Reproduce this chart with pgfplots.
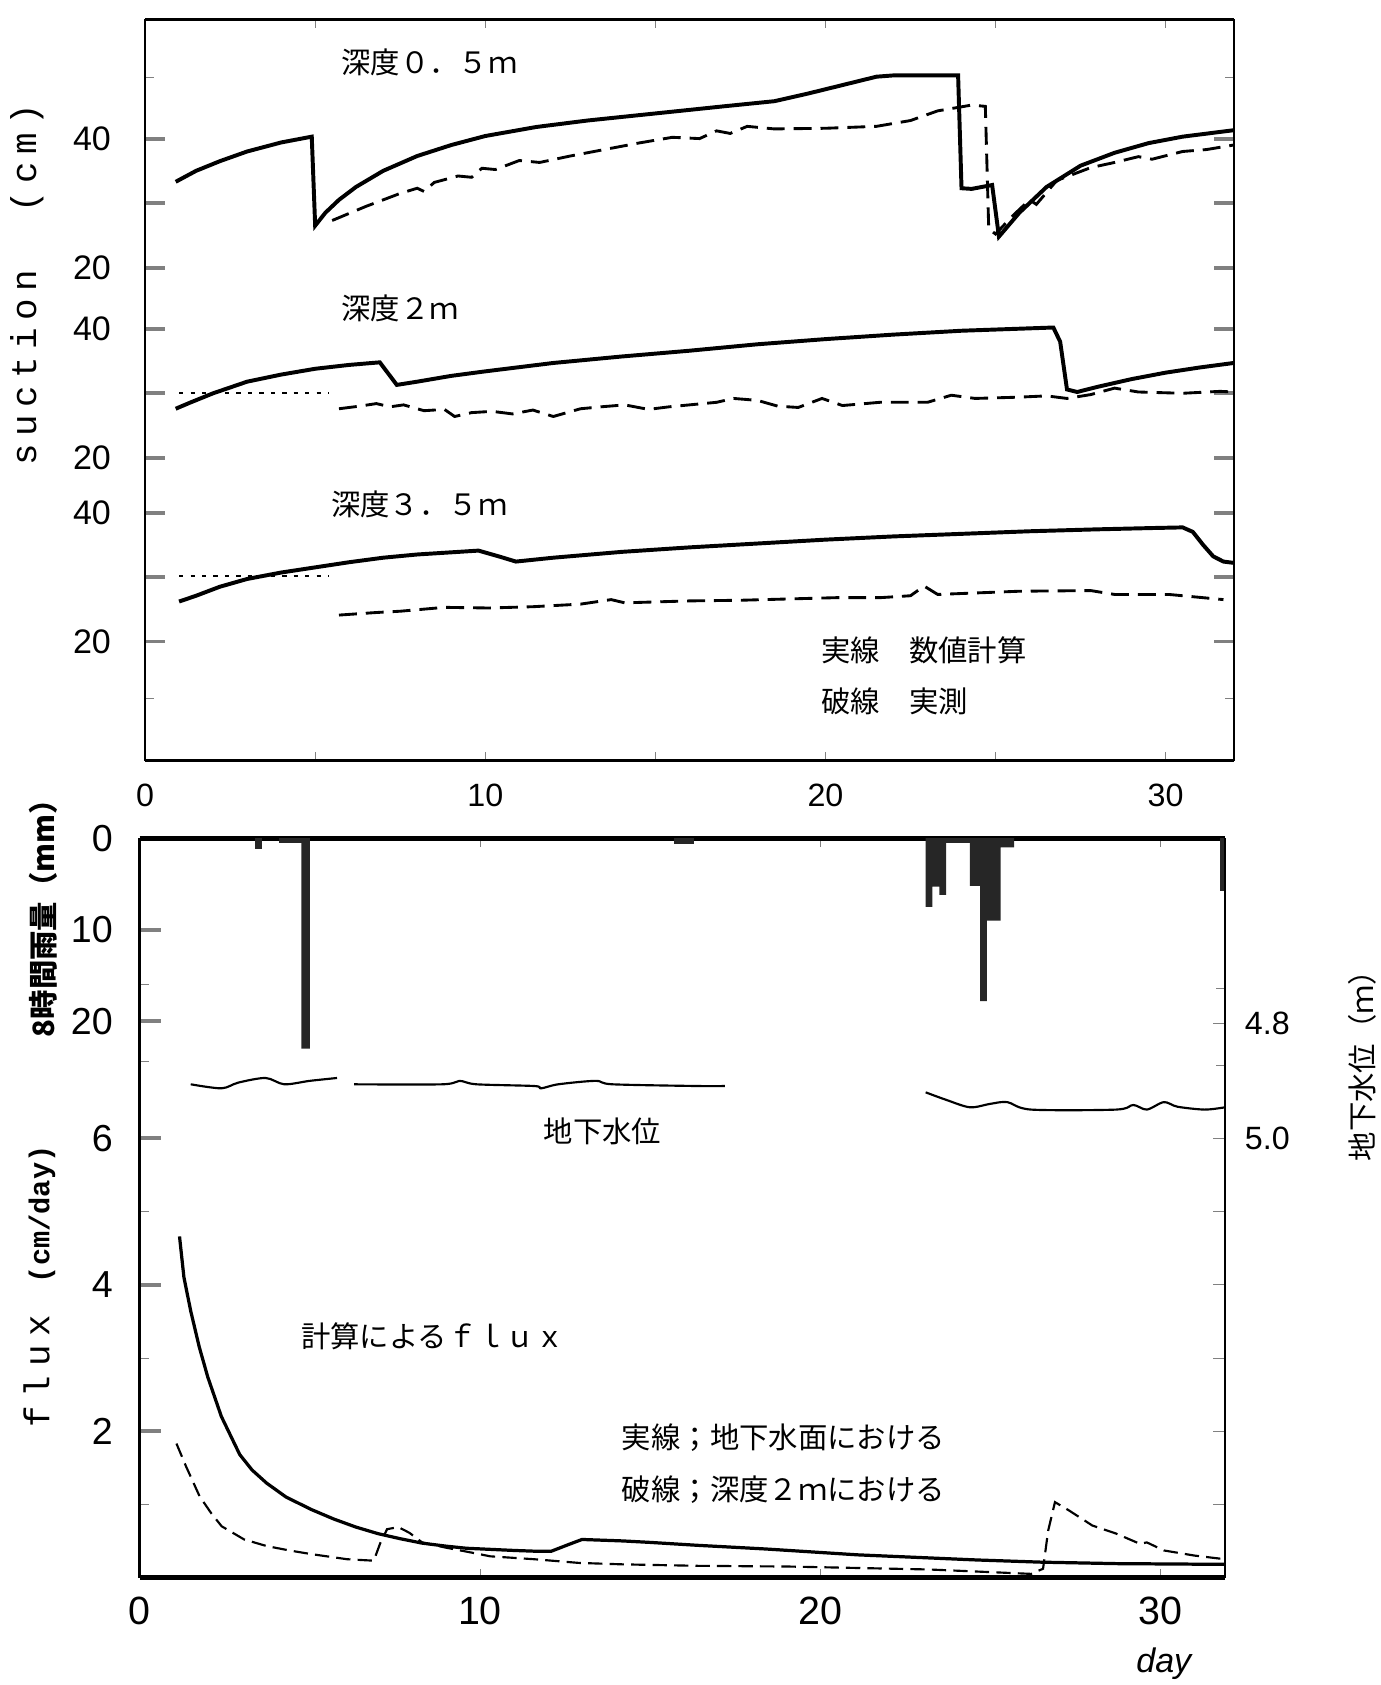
\documentclass[border=0pt]{standalone}
\usepackage{pgfplots}
\pgfplotsset{compat=1.18}
\usepackage{fontspec}
\setmainfont{Noto Sans CJK JP}
\newfontfamily\monofont{Liberation Mono}
\newfontfamily\numfont{Liberation Sans}
\newcommand\cj{\fontsize{8.2}{9.5}\selectfont}
\begin{document}
\begin{tikzpicture}
\useasboundingbox (0pt,0pt) rectangle (385.5pt,470.4pt);
% ================= TOP: suction =================
\begin{axis}[
  at={(40.5pt,258pt)}, anchor=south west, scale only axis,
  width=303.9pt, height=207pt,
  xmin=0, xmax=32, ymin=0, ymax=115,
  separate axis lines,
  every outer x axis line/.append style={line width=0.9pt},
  every outer y axis line/.append style={line width=0.5pt},
  tick align=inside,
  major tick length=5.5pt, minor tick length=2.5pt,
  every major y tick/.append style={line width=1.1pt},
  xtick={0,10,20,30},
  every major x tick/.append style={draw=none},
  minor xtick={0,5,...,30},
  ytick={18.5,28.5,38.5,47,57,67,76.5,86.5,96.5},
  yticklabels={20,,40,20,,40,20,,40},
  minor ytick={9.7,106},
  /pgf/number format/assume math mode=true,
  xticklabel style={font=\numfont\fontsize{9}{10}\selectfont, yshift=-3pt},
  yticklabel style={font=\numfont\fontsize{9.5}{10}\selectfont, xshift=-6pt},
]
% ---- depth 0.5 m (offset +56.5)
\addplot[black, line width=1.1pt, y filter/.expression={y+56.5}] coordinates {
(0.9,33.3) (1.5,35) (2.2,36.5) (3,38) (4,39.4) (4.9,40.3) (5.0,26.5) (5.3,28.5) (5.7,30.5) (6.2,32.5) (7,35) (8,37.3) (9,39) (10,40.4) (11.5,41.8) (13,42.8) (15,43.9) (17,45) (18.5,45.8) (19.5,47) (20.5,48.3) (21.5,49.6) (22,49.8) (23.9,49.8) (24.0,32.3) (24.3,32.2) (24.9,32.8) (25.1,24.8) (25.7,28.5) (26.5,32.5) (27.5,35.8) (28.5,37.8) (29.5,39.3) (30.5,40.3) (32,41.3)
};
\addplot[black, line width=0.8pt, dash pattern=on 5pt off 2.5pt, y filter/.expression={y+56.5}] coordinates {
(5.5,27.3) (6.5,29.5) (7.5,31.5) (8.0,32.3) (8.2,31.8) (8.5,33.2) (9.2,34.2) (9.6,34.0) (9.9,35.4) (10.3,35.2) (11,36.6) (11.6,36.3) (12.5,37.3) (13.5,38.3) (14.5,39.3) (15.5,40.2) (16.3,40.0) (16.8,41.2) (17.2,40.8) (17.7,41.9) (18.5,41.5) (20,41.6) (21.5,41.9) (22.5,42.8) (23.3,44.3) (24.3,45.2) (24.7,45.0) (24.8,26) (25.0,25.2) (25.5,28) (26.0,30.5) (26.2,29.8) (26.8,33.5) (27.8,35.5) (28.5,36.3) (29.2,37.2) (29.6,36.8) (30.5,38) (31.2,38.3) (32,39)
};
% ---- depth 2 m (offset +27)
\addplot[black, line width=1.1pt, y filter/.expression={y+27}] coordinates {
(0.9,27.6) (1.3,28.5) (2,30) (3,31.8) (4,32.9) (5,33.8) (6,34.4) (6.9,34.8) (7.4,31.3) (8,31.8) (9,32.7) (10,33.4) (12,34.7) (14,35.7) (16,36.6) (18,37.6) (20,38.4) (22,39.1) (24,39.7) (26.7,40.2) (26.9,38) (27.1,30.6) (27.4,30.2) (28,31) (29,32.2) (30,33.2) (31,34) (32,34.7)
};
\addplot[black, line width=0.8pt, dash pattern=on 5pt off 2.5pt, y filter/.expression={y+27}] coordinates {
(5.7,27.6) (6.3,28.0) (6.8,28.4) (7.2,27.9) (7.6,28.2) (8.2,27.3) (8.8,27.5) (9.1,26.4) (9.6,27.0) (10.2,27.2) (10.8,26.8) (11.4,27.4) (12.0,26.4) (12.8,27.6) (13.4,27.9) (14.1,28.2) (14.8,27.5) (15.4,27.9) (16.2,28.3) (16.8,28.6) (17.3,29.2) (18.0,28.9) (18.6,28.0) (19.2,27.8) (19.9,29.2) (20.5,28.1) (21.6,28.6) (23.0,28.6) (23.7,29.7) (24.4,29.2) (25.7,29.4) (26.5,29.6) (27.1,29.2) (27.8,29.8) (28.5,30.8) (29.2,30.2) (30.5,30.0) (31.6,30.3) (32,30.2)
};
\addplot[black, line width=0.5pt, dash pattern=on 1.2pt off 2pt, y filter/.expression={y+27}] coordinates {(1.0,30) (5.4,30)};
% ---- depth 3.5 m (offset -1.5)
\addplot[black, line width=1.1pt, y filter/.expression={y-1.5}] coordinates {
(1.0,26.2) (1.5,27.1) (2.2,28.5) (3,29.7) (4,30.7) (5,31.5) (6,32.3) (7,33) (8,33.5) (9.8,34.1) (10.4,33.2) (10.9,32.4) (12,33) (14,33.9) (16,34.6) (18,35.2) (20,35.8) (22,36.3) (24,36.7) (26,37.1) (28,37.4) (29.6,37.6) (30.5,37.7) (30.8,37.0) (31.1,35) (31.4,33.2) (31.7,32.4) (32,32.2)
};
\addplot[black, line width=0.8pt, dash pattern=on 5pt off 2.5pt, y filter/.expression={y-1.5}] coordinates {
(5.7,24.1) (6.8,24.5) (7.5,24.7) (8.8,25.3) (10.1,25.2) (11.4,25.4) (12.8,25.8) (13.7,26.5) (14.1,26.0) (16,26.3) (17.5,26.4) (20.3,26.8) (21.6,26.8) (22.5,27.1) (22.9,28.6) (23.3,27.3) (25.7,27.8) (27.8,27.9) (28.5,27.3) (30.1,27.3) (31.7,26.5)
};
\addplot[black, line width=0.5pt, dash pattern=on 1.2pt off 2pt, y filter/.expression={y-1.5}] coordinates {(1.0,30.2) (5.4,30.2)};
% ---- texts
\node[anchor=west, font=\cj] at (axis cs:5.4,108.3) {深度０．５ｍ};
\node[anchor=west, font=\cj] at (axis cs:5.4,70.2) {深度２ｍ};
\node[anchor=west, font=\cj] at (axis cs:5.1,39.7) {深度３．５ｍ};
\node[anchor=west, font=\cj] at (axis cs:19.5,17.2) {実線　数値計算};
\node[anchor=west, font=\cj] at (axis cs:19.5,9.2) {破線　実測};
\end{axis}
% ================= BOTTOM: rain / groundwater / flux =================
\begin{axis}[
  at={(39pt,30pt)}, anchor=south west, scale only axis,
  width=303pt, height=206.4pt,
  xmin=0, xmax=31.9, ymin=0, ymax=10.1,
  separate axis lines,
  every outer x axis line/.append style={line width=1.3pt},
  every outer y axis line/.append style={line width=0.7pt},
  tick align=inside, ytick pos=left,
  major tick length=6pt, minor tick length=2.5pt,
  every major y tick/.append style={line width=1.1pt},
  xtick={0,10,20,30},
  every major x tick/.append style={draw=none},
  minor xtick={10,20,30},
  ytick={2,4,6,7.6,8.85,10.1},
  yticklabels={2,4,6,20,10,0},
  minor ytick={1,3,5,7.05,8.1},
  /pgf/number format/assume math mode=true,
  xticklabel style={font=\numfont\fontsize{11}{12}\selectfont, yshift=-2pt},
  yticklabel style={font=\numfont\fontsize{10.5}{11}\selectfont, xshift=-4pt},
]
% ---- rainfall (mm per 8 h), hanging from the top
\addplot[fill=black!85, draw=none, y filter/.expression={10.1-0.125*y}] coordinates {(3.4,0) (3.4,1.2) (3.6,1.2) (3.6,0)};
\addplot[fill=black!85, draw=none, y filter/.expression={10.1-0.125*y}] coordinates {(4.1,0) (4.1,0.5) (4.75,0.5) (4.75,23) (5.0,23) (5.0,0)};
\addplot[fill=black!85, draw=none, y filter/.expression={10.1-0.125*y}] coordinates {(15.7,0) (15.7,0.6) (16.3,0.6) (16.3,0)};
\addplot[fill=black!85, draw=none, y filter/.expression={10.1-0.125*y}] coordinates {(23.1,0) (23.1,7.5) (23.3,7.5) (23.3,5.3) (23.5,5.3) (23.5,6.2) (23.7,6.2) (23.7,0.5) (24.4,0.5) (24.4,5.2) (24.7,5.2) (24.7,17.8) (24.9,17.8) (24.9,9) (25.3,9) (25.3,1) (25.7,1) (25.7,0)};
\addplot[fill=black!85, draw=none, y filter/.expression={10.1-0.125*y}] coordinates {(31.75,0) (31.75,5.8) (31.9,5.8) (31.9,0)};
% ---- groundwater level (m)
\addplot[black, line width=0.6pt, smooth, y filter/.expression={6+(5.0-y)*7.85}] coordinates {
(1.5,4.906) (2.4,4.913) (2.9,4.903) (3.7,4.895) (4.25,4.906) (5.0,4.900) (5.8,4.895)
};
\addplot[black, line width=0.6pt, smooth, y filter/.expression={6+(5.0-y)*7.85}] coordinates {
(6.3,4.906) (8.9,4.906) (9.4,4.900) (9.9,4.906) (11.6,4.909) (11.8,4.913) (12.3,4.906) (13.4,4.900) (13.9,4.906) (16.4,4.909) (17.2,4.909)
};
\addplot[black, line width=0.6pt, smooth, y filter/.expression={6+(5.0-y)*7.85}] coordinates {
(23.1,4.920) (23.7,4.933) (24.4,4.946) (25.0,4.940) (25.5,4.937) (26.2,4.950) (28.7,4.950) (29.2,4.942) (29.6,4.950) (30.1,4.937) (30.5,4.945) (31.3,4.950) (31.9,4.946)
};
% ---- flux (cm/day)
\addplot[black, line width=0.9pt] coordinates {
(1.17,4.66) (1.3,4.1) (1.5,3.64) (1.75,3.15) (2.0,2.74) (2.4,2.2) (2.94,1.68) (3.3,1.47) (3.73,1.29) (4.3,1.1) (5.04,0.93) (5.7,0.8) (6.35,0.69) (7.0,0.6) (7.66,0.53) (8.3,0.47) (8.98,0.43) (9.6,0.40) (10.3,0.385) (11.0,0.37) (11.6,0.36) (12.1,0.36) (12.6,0.45) (13.0,0.52) (14.2,0.5) (15.0,0.48) (16.4,0.44) (18.4,0.39) (21.1,0.31) (24.6,0.24) (26.5,0.21) (28.7,0.19) (31.9,0.18)
};
\addplot[black, line width=0.6pt, dash pattern=on 4pt off 2pt] coordinates {
(1.08,1.83) (1.36,1.52) (1.76,1.11) (2.1,0.88) (2.41,0.70) (3.07,0.52) (3.73,0.43) (4.4,0.37) (5.04,0.32) (6.1,0.25) (6.88,0.23) (7.07,0.47) (7.27,0.66) (7.6,0.69) (7.93,0.61) (8.3,0.48) (8.98,0.41) (9.76,0.34) (10.3,0.29) (11.6,0.25) (12.9,0.20) (14.2,0.18) (16.4,0.16) (19.1,0.15) (23.2,0.11) (26.2,0.05) (26.55,0.12) (26.7,0.64) (26.9,1.03) (27.3,0.92) (28.0,0.71) (28.7,0.60) (29.4,0.46) (29.6,0.48) (30.1,0.37) (31.0,0.30) (31.9,0.25)
};
% ---- texts
\node[anchor=west, font=\cj] at (axis cs:11.5,6.1) {地下水位};
\node[anchor=west, font=\cj] at (axis cs:4.37,3.3) {計算によるｆｌｕｘ};
\node[anchor=west, font=\cj] at (axis cs:13.8,1.91) {実線；地下水面における};
\node[anchor=west, font=\cj] at (axis cs:13.8,1.2) {破線；深度２ｍにおける};
\end{axis}
% ---- right-hand axis: groundwater level
\begin{axis}[
  at={(39pt,30pt)}, anchor=south west, scale only axis,
  width=303pt, height=206.4pt,
  xmin=0, xmax=31.9, ymin=0, ymax=10.1,
  axis x line=none, axis y line*=right,
  y axis line style={line width=0.5pt},
  tick align=inside,
  major tick length=3.5pt, minor tick length=2.5pt,
  ytick={1,2,3,4,5,6,7.57},
  yticklabels={,,,,,5.0,4.8},
  minor ytick={7.0,8.05},
  yticklabel style={font=\numfont\fontsize{9}{10}\selectfont, xshift=2pt},
]
\end{axis}
% ---- outer labels
\node[rotate=90, font=\monofont\fontsize{10}{11}\selectfont\addfontfeature{LetterSpace=21}] at (7.5pt,390.9pt) {suction\ \ (cm)};
\node[rotate=90, font=\bfseries\fontsize{8.2}{9}\selectfont] at (12pt,216pt) {8時間雨量（mm）};
\node[rotate=90] at (11pt,111.3pt) {{\monofont\fontsize{10}{11}\selectfont\addfontfeature{LetterSpace=24}flux}\hspace{9pt}{\monofont\bfseries\fontsize{8}{9}\selectfont(cm/day)}};
\node[rotate=90, font=\cj] at (380.4pt,174.9pt) {地下水位（ｍ）};
\node[font=\numfont\itshape\fontsize{9.5}{10}\selectfont] at (324.9pt,6pt) {day};
\end{tikzpicture}
\end{document}
